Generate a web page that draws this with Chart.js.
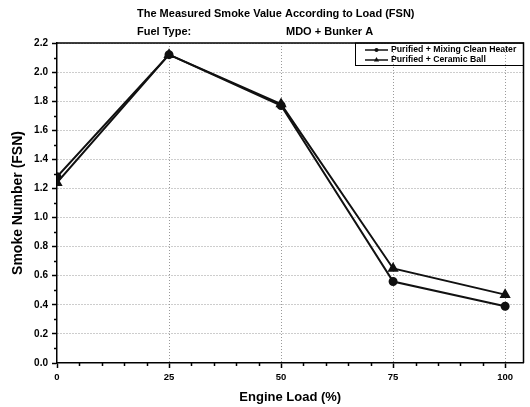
<!DOCTYPE html>
<html>
<head>
<meta charset="utf-8">
<script src="https://cdn.jsdelivr.net/npm/chart.js@4"></script>
<style>
  html, body { margin: 0; padding: 0; background: #fff; }
  #wrap { width: 530px; height: 407px; }
</style>
</head>
<body>
<div id="wrap"><canvas id="smokeChart"></canvas></div>
<script>
const engineLoad = [0, 25, 50, 75, 100];
const cleanHeater = [1.28, 2.12, 1.77, 0.56, 0.39];
const ceramicBall = [1.24, 2.12, 1.78, 0.65, 0.47];

const FONT = 'Arial, "Liberation Sans", sans-serif';

function toPoints(ys) {
    return engineLoad.map((x, i) => ({ x: x, y: ys[i] }));
}

// header text, minor ticks, frame and boxed legend
const decorations = {
    id: 'decorations',
    afterDraw(chart) {
        const c = chart.ctx;
        const area = chart.chartArea;
        const xs = chart.scales.x;
        const ys = chart.scales.y;

        c.save();
        c.fillStyle = '#000';
        c.textBaseline = 'middle';
        c.textAlign = 'left';
        c.font = 'bold 11px ' + FONT;
        c.fillText('The Measured Smoke Value According to Load (FSN)', 137, 14);
        c.fillText('Fuel Type:', 137, 32);
        c.fillText('MDO + Bunker A', 286, 32);

        // minor ticks
        c.strokeStyle = '#000';
        c.lineWidth = 1.5;
        c.beginPath();
        for (let v = 0.1; v < 2.2; v += 0.2) {
            const py = Math.round(ys.getPixelForValue(v)) + 0.5;
            c.moveTo(area.left, py);
            c.lineTo(area.left - 3, py);
        }
        for (let v = 5; v < 104; v += 5) {
            if (v % 25 === 0) continue;
            const px = Math.round(xs.getPixelForValue(v)) + 0.5;
            c.moveTo(px, area.bottom);
            c.lineTo(px, area.bottom + 3);
        }
        c.stroke();

        // top and right frame
        c.beginPath();
        c.moveTo(area.left, area.top);
        c.lineTo(area.right, area.top);
        c.lineTo(area.right, area.bottom);
        c.stroke();

        // legend box
        const boxLeft = 355, boxBottom = 65.5;
        c.lineWidth = 1;
        c.strokeRect(boxLeft + 0.5, area.top, area.right - boxLeft - 0.5, boxBottom - area.top);
        c.font = 'bold 8.7px ' + FONT;
        chart.data.datasets.forEach((ds, i) => {
            const y = 50 + i * 10;
            c.strokeStyle = ds.borderColor;
            c.fillStyle = ds.borderColor;
            c.lineWidth = 1.5;
            c.beginPath();
            c.moveTo(365, y);
            c.lineTo(388, y);
            c.stroke();
            const mx = 376.5;
            c.beginPath();
            if (ds.pointStyle === 'triangle') {
                c.moveTo(mx, y - 3);
                c.lineTo(mx + 2.6, y + 1.5);
                c.lineTo(mx - 2.6, y + 1.5);
                c.closePath();
            } else {
                c.arc(mx, y, 2, 0, Math.PI * 2);
            }
            c.fill();
            c.fillStyle = '#000';
            c.fillText(ds.label, 391, y);
        });
        c.restore();
    }
};

const gridColor = ctx => (ctx.tick && ctx.tick.value === 0) ? 'rgba(0,0,0,0)' : '#9a9a9a';

new Chart(document.getElementById('smokeChart'), {
    type: 'line',
    data: {
        datasets: [{
            label: 'Purified + Mixing Clean Heater',
            data: toPoints(cleanHeater),
            borderColor: '#111',
            backgroundColor: '#111',
            borderWidth: 2,
            pointStyle: 'circle',
            pointRadius: 3.5,
            tension: 0
        }, {
            label: 'Purified + Ceramic Ball',
            data: toPoints(ceramicBall),
            borderColor: '#111',
            backgroundColor: '#111',
            borderWidth: 2,
            pointStyle: 'triangle',
            pointRadius: 4.5,
            tension: 0
        }]
    },
    options: {
        responsive: true,
        maintainAspectRatio: false,
        animation: false,
        layout: {
            padding: { top: 43, right: 5, left: 0, bottom: 0 }
        },
        plugins: {
            legend: { display: false },
            tooltip: { enabled: false }
        },
        scales: {
            x: {
                type: 'linear',
                min: 0,
                max: 104.1,
                afterFit: s => { s.height = 44; },
                ticks: {
                    stepSize: 25,
                    includeBounds: false,
                    color: '#000',
                    padding: 4,
                    font: { family: FONT, size: 9.5, weight: 'bold' }
                },
                grid: {
                    color: gridColor,
                    lineWidth: 1,
                    tickLength: 5,
                    tickColor: '#000',
                    tickWidth: 1.5
                },
                border: { color: '#000', width: 1.5, dash: [1, 2] },
                title: {
                    display: true,
                    text: 'Engine Load (%)',
                    color: '#000',
                    font: { family: FONT, size: 13, weight: 'bold' },
                    padding: { top: 4, bottom: 2 }
                }
            },
            y: {
                min: 0,
                max: 2.2,
                afterFit: s => { s.width = 57; },
                ticks: {
                    stepSize: 0.2,
                    color: '#000',
                    padding: 4,
                    callback: v => v.toFixed(1),
                    font: { family: FONT, size: 10, weight: 'bold' }
                },
                grid: {
                    color: gridColor,
                    lineWidth: 1,
                    tickLength: 5,
                    tickColor: '#000',
                    tickWidth: 1.5
                },
                border: { color: '#000', width: 1.5, dash: [1, 2] },
                title: {
                    display: true,
                    text: 'Smoke Number (FSN)',
                    color: '#000',
                    font: { family: FONT, size: 14, weight: 'bold' },
                    padding: { top: 10, bottom: 0 }
                }
            }
        }
    },
    plugins: [decorations]
});
</script>
</body>
</html>
